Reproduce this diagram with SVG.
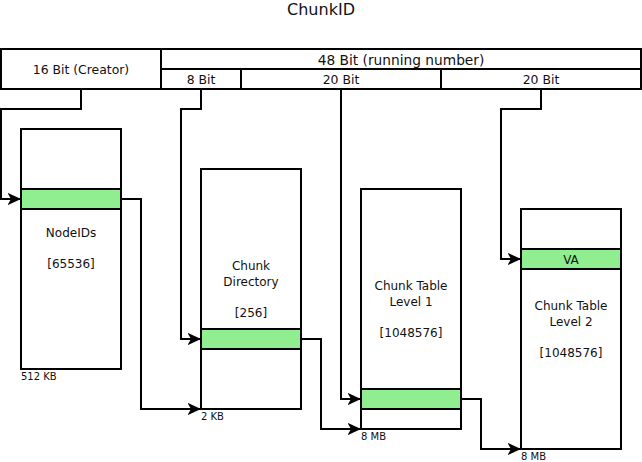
<svg xmlns="http://www.w3.org/2000/svg" width="642" height="462" viewBox="0 0 642 462">
<defs>
<marker id="arr" markerUnits="userSpaceOnUse" markerWidth="15" markerHeight="14" refX="13.5" refY="7" orient="auto">
<path d="M0,0.8 L13.5,7 L0,13.2 L3.5,7 z" fill="#000"/>
</marker>
<style>
.box{fill:#fff;stroke:#000;stroke-width:2}
.hl{fill:#90ee90;stroke:#000;stroke-width:2}
.t{font-family:"DejaVu Sans",sans-serif;font-size:12px;fill:#111;text-anchor:middle}
.h{font-family:"DejaVu Sans",sans-serif;font-size:12.4px;fill:#111;text-anchor:middle}
.s{font-family:"DejaVu Sans",sans-serif;font-size:10px;fill:#111}
.c{fill:none;stroke:#000;stroke-width:2;marker-end:url(#arr)}
</style>
</defs>
<rect width="642" height="462" fill="#fff"/>
<text x="321" y="15" style="font-family:'DejaVu Sans',sans-serif;font-size:16px;text-anchor:middle;fill:#111">ChunkID</text>

<g id="header">
<rect class="box" x="1" y="49" width="160" height="40"/>
<rect class="box" x="161" y="49" width="480" height="20"/>
<rect class="box" x="161" y="69" width="80" height="20"/>
<rect class="box" x="241" y="69" width="200" height="20"/>
<rect class="box" x="441" y="69" width="200" height="20"/>
<text class="h" x="81" y="73.5">16 Bit (Creator)</text>
<text class="h" x="401" y="65.3" style="font-size:13.75px">48 Bit (running number)</text>
<text class="h" x="201" y="84">8 Bit</text>
<text class="h" x="341" y="84">20 Bit</text>
<text class="h" x="541" y="84">20 Bit</text>
</g>

<g id="nodeids">
<rect class="box" x="21" y="129" width="100" height="240"/>
<rect class="hl" x="21" y="189" width="100" height="20"/>
<text class="t" x="71" y="237">NodeIDs</text>
<text class="t" x="71" y="268">[65536]</text>
<text class="s" x="21" y="380">512 KB</text>
</g>

<g id="chunkdir">
<rect class="box" x="201" y="169" width="100" height="240"/>
<rect class="hl" x="201" y="329" width="100" height="20"/>
<text class="t" x="251" y="270">Chunk</text>
<text class="t" x="251" y="285.5">Directory</text>
<text class="t" x="251" y="316.5">[256]</text>
<text class="s" x="201" y="420">2 KB</text>
</g>

<g id="ct1">
<rect class="box" x="361" y="189" width="100" height="240"/>
<rect class="hl" x="361" y="389" width="100" height="20"/>
<text class="t" x="411" y="290">Chunk Table</text>
<text class="t" x="411" y="305.5">Level 1</text>
<text class="t" x="411" y="336.5">[1048576]</text>
<text class="s" x="361" y="440">8 MB</text>
</g>

<g id="ct2">
<rect class="box" x="521" y="209" width="100" height="240"/>
<rect class="hl" x="521" y="249" width="100" height="20"/>
<text class="t" x="571" y="263.5">VA</text>
<text class="t" x="571" y="310">Chunk Table</text>
<text class="t" x="571" y="325.5">Level 2</text>
<text class="t" x="571" y="356.5">[1048576]</text>
<text class="s" x="521" y="460">8 MB</text>
</g>

<g id="connectors">
<polyline class="c" points="81,89 81,109 1,109 1,199 21,199"/>
<polyline class="c" points="201,89 201,109 181,109 181,339 201,339"/>
<polyline class="c" points="341,89 341,399 361,399"/>
<polyline class="c" points="541,89 541,109 501,109 501,259 521,259"/>
<polyline class="c" points="121,199 141,199 141,409 201,409"/>
<polyline class="c" points="301,339 321,339 321,429 361,429"/>
<polyline class="c" points="461,399 481,399 481,449 521,449"/>
</g>
</svg>
